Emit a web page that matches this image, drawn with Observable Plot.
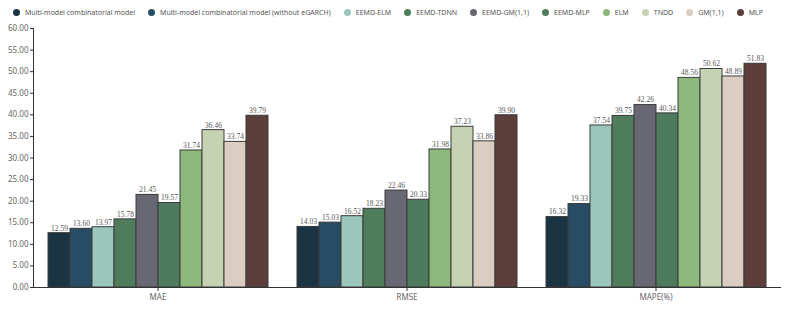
<!DOCTYPE html>
<html><head><meta charset="utf-8">
<script src="https://cdn.jsdelivr.net/npm/d3@7"></script>
<script src="https://cdn.jsdelivr.net/npm/@observablehq/plot@0.6"></script>
<style>
body{margin:0;background:#fff;font-family:"Noto Sans",sans-serif;}
#legend{height:22px;display:flex;align-items:center;justify-content:center;gap:13px;font-size:7px;color:#555;padding-right:12px;padding-top:2px;box-sizing:border-box;width:788px;}
#legend .it{display:flex;align-items:center;white-space:nowrap;}
#legend .dot{width:7px;height:7px;border-radius:50%;margin-right:5px;}
</style>
</head><body>
<div id="legend"></div>
<div id="chart"></div>
<script>
const metrics = ["MAE", "RMSE", "MAPE(%)"];
const models = ["Multi-model combinatorial model", "Multi-model combinatorial model (without eGARCH)", "EEMD-ELM", "EEMD-TDNN", "EEMD-GM(1,1)", "EEMD-MLP", "ELM", "TNDD", "GM(1,1)", "MLP"];
const colors = ["#1b3444", "#274c63", "#9bc6bc", "#4f7d5c", "#686874", "#4e7b5d", "#8db87c", "#c6d3b3", "#dccdc3", "#5c3e3a"];
const maeValues = [12.59, 13.60, 13.97, 15.78, 21.45, 19.57, 31.74, 36.46, 33.74, 39.79];
const rmseValues = [14.03, 15.03, 16.52, 18.23, 22.46, 20.33, 31.98, 37.23, 33.86, 39.90];
const mapeValues = [16.32, 19.33, 37.54, 39.75, 42.26, 40.34, 48.56, 50.62, 48.89, 51.83];
const yTicks = d3.range(0, 61, 5);

const seriesByMetric = [maeValues, rmseValues, mapeValues];
const data = [];
metrics.forEach((m, i) => models.forEach((mod, j) => data.push({metric: m, model: mod, value: seriesByMetric[i][j]})));

const legend = document.getElementById("legend");
models.forEach((m, i) => {
  const it = document.createElement("div"); it.className = "it";
  const d = document.createElement("span"); d.className = "dot"; d.style.background = colors[i];
  const t = document.createElement("span"); t.textContent = m;
  it.appendChild(d); it.appendChild(t); legend.appendChild(it);
});

const chart = Plot.plot({
  width: 788, height: 287,
  marginTop: 6, marginBottom: 22, marginLeft: 33, marginRight: 8,
  style: {fontFamily: "Noto Sans", fontSize: "8px", color: "#666", background: "#fff"},
  fx: {domain: metrics, padding: 0, label: null},
  x: {domain: models, paddingInner: 0, paddingOuter: 0.45, axis: null},
  y: {domain: [0, 60], label: null},
  color: {domain: models, range: colors},
  marks: [
    Plot.barY(data, {fx: "metric", x: "model", y: "value", fill: "model", stroke: "#3a3a3a", strokeWidth: 1}),
    Plot.text(data, {fx: "metric", x: "model", y: "value", text: d => d.value.toFixed(2), dy: -5, fontFamily: "Liberation Serif", fontSize: 7.5, fill: "#555"}),
    Plot.axisY({ticks: yTicks, tickFormat: d => d.toFixed(2), tickSize: 3, tickPadding: 2, label: null, stroke: "#333"}),
    Plot.frame({anchor: "left", facet: "super", stroke: "#333"}),
    Plot.frame({anchor: "bottom", facet: "super", stroke: "#333"}),
    Plot.axisFx({anchor: "bottom", tickSize: 4, tickPadding: 3, label: null, stroke: "#333"})
  ]
});
document.getElementById("chart").appendChild(chart);
</script>
</body></html>
